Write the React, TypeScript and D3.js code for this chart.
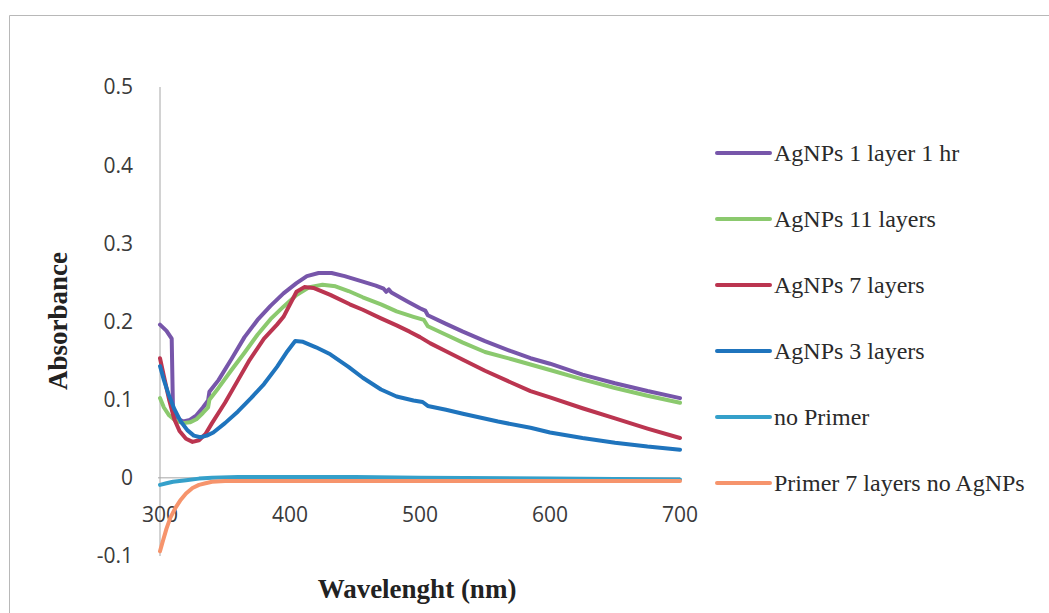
import { useEffect, useRef } from 'react'
import * as d3 from 'd3'

// [wavelength nm, absorbance]
const layer1hr: [number, number][] = [
  [300, 0.196], [305, 0.188], [309, 0.178], [310, 0.085], [313, 0.076], [318, 0.072],
  [323, 0.074], [328, 0.08], [333, 0.09], [337, 0.099], [338, 0.11], [345, 0.125],
  [355, 0.152], [365, 0.18], [375, 0.202], [385, 0.22], [395, 0.236], [405, 0.249],
  [413, 0.258], [422, 0.262], [432, 0.262], [442, 0.258], [456, 0.251], [466, 0.246],
  [472, 0.242], [474, 0.238], [476, 0.241], [478, 0.237], [490, 0.226], [500, 0.217],
  [504, 0.214], [506, 0.208], [520, 0.197], [533, 0.187], [550, 0.175], [570, 0.162],
  [585, 0.153], [600, 0.146], [625, 0.132], [650, 0.121], [675, 0.111], [700, 0.102],
]
const layers11: [number, number][] = [
  [300, 0.102], [303, 0.09], [307, 0.08], [312, 0.073], [318, 0.07], [323, 0.071],
  [328, 0.075], [333, 0.083], [337, 0.09], [338, 0.1], [345, 0.115], [355, 0.138],
  [365, 0.16], [375, 0.183], [385, 0.203], [395, 0.219], [405, 0.234], [415, 0.244],
  [425, 0.247], [435, 0.245], [445, 0.239], [456, 0.231], [470, 0.222], [482, 0.213],
  [495, 0.206], [503, 0.202], [506, 0.194], [520, 0.183], [533, 0.173], [550, 0.161],
  [570, 0.152], [585, 0.145], [600, 0.138], [625, 0.126], [650, 0.115], [675, 0.105], [700, 0.096],
]
const layers7: [number, number][] = [
  [300, 0.153], [303, 0.13], [307, 0.1], [311, 0.075], [315, 0.06], [320, 0.05],
  [325, 0.046], [330, 0.048], [335, 0.056], [340, 0.07], [350, 0.096], [360, 0.125],
  [369, 0.151], [380, 0.178], [390, 0.196], [395, 0.206], [405, 0.238], [411, 0.244],
  [418, 0.243], [431, 0.234], [446, 0.222], [456, 0.215], [470, 0.204], [482, 0.195],
  [492, 0.187], [500, 0.18], [508, 0.172], [520, 0.162], [533, 0.151], [550, 0.137],
  [570, 0.122], [585, 0.111], [600, 0.103], [625, 0.089], [650, 0.076], [675, 0.063], [700, 0.051],
]
const layers3: [number, number][] = [
  [300, 0.143], [303, 0.125], [307, 0.105], [311, 0.088], [316, 0.072], [321, 0.061],
  [326, 0.054], [331, 0.052], [336, 0.054], [341, 0.058], [350, 0.07], [360, 0.085],
  [370, 0.102], [380, 0.12], [390, 0.142], [398, 0.162], [404, 0.175], [410, 0.174],
  [420, 0.167], [431, 0.158], [445, 0.142], [456, 0.128], [470, 0.113], [482, 0.104],
  [495, 0.099], [502, 0.097], [506, 0.092], [520, 0.087], [533, 0.082], [560, 0.072],
  [585, 0.064], [600, 0.058], [625, 0.051], [650, 0.045], [675, 0.04], [700, 0.036],
]
const noPrimer: [number, number][] = [
  [300, -0.009], [305, -0.007], [310, -0.005], [320, -0.003], [330, -0.001], [340, 0.0],
  [360, 0.001], [400, 0.001], [450, 0.001], [500, 0.0], [600, -0.001], [700, -0.002],
]
const primerNoAg: [number, number][] = [
  [300, -0.094], [302, -0.082], [305, -0.065], [308, -0.051], [312, -0.038], [316, -0.028],
  [320, -0.02], [325, -0.013], [330, -0.009], [335, -0.007], [340, -0.005], [350, -0.004],
  [400, -0.004], [500, -0.004], [600, -0.004], [700, -0.004],
]

const seriesNames = [
  'AgNPs 1 layer 1 hr',
  'AgNPs 11 layers',
  'AgNPs 7 layers',
  'AgNPs 3 layers',
  'no Primer',
  'Primer 7 layers no AgNPs',
]
const seriesData = [layer1hr, layers11, layers7, layers3, noPrimer, primerNoAg]
const seriesColors = ['#7756aa', '#8bc96e', '#bb3550', '#1f74bd', '#35a0ca', '#f6946c']

const xTicks = [300, 400, 500, 600, 700]
const yTicks = [-0.1, 0, 0.1, 0.2, 0.3, 0.4, 0.5]

const W = 1049
const H = 613

export default function App() {
  const svgRef = useRef<SVGSVGElement>(null)

  useEffect(() => {
    if (!svgRef.current) return
    const svg = d3.select(svgRef.current)
    svg.selectAll('*').remove()

    const x = d3.scaleLinear().domain([300, 700]).range([160, 680])
    const y = d3.scaleLinear().domain([-0.1, 0.5]).range([556, 87])

    svg.append('rect').attr('width', W).attr('height', H).attr('fill', '#fff')

    // faint scanned frame
    svg.append('path')
      .attr('d', `M9.5,${H} V15.5 H${W}`)
      .attr('fill', 'none')
      .attr('stroke', '#b8b8b8')
      .attr('stroke-width', 1)

    // axes
    svg.append('line')
      .attr('x1', x(300)).attr('x2', x(300))
      .attr('y1', y(0.5)).attr('y2', y(-0.1))
      .attr('stroke', '#a6a6a6')
    svg.append('line')
      .attr('x1', x(300) - 2).attr('x2', x(700))
      .attr('y1', y(0)).attr('y2', y(0))
      .attr('stroke', '#a6a6a6')

    svg.append('g')
      .selectAll('text')
      .data(yTicks)
      .enter()
      .append('text')
      .attr('x', 133)
      .attr('y', d => y(d))
      .attr('dy', '0.35em')
      .attr('text-anchor', 'end')
      .attr('font-family', '"Open Sans", sans-serif')
      .attr('font-size', 21)
      .attr('fill', '#3a3a3a')
      .text(d => (d === 0 ? '0' : d.toFixed(1)))

    svg.append('g')
      .selectAll('text')
      .data(xTicks)
      .enter()
      .append('text')
      .attr('x', d => x(d))
      .attr('y', 522)
      .attr('text-anchor', 'middle')
      .attr('font-family', '"Open Sans", sans-serif')
      .attr('font-size', 21)
      .attr('fill', '#3a3a3a')
      .text(d => d)

    // series
    const line = d3.line<[number, number]>()
      .x(d => x(d[0]))
      .y(d => y(d[1]))

    seriesData.forEach((data, i) => {
      svg.append('path')
        .datum(data)
        .attr('d', line)
        .attr('fill', 'none')
        .attr('stroke', seriesColors[i])
        .attr('stroke-width', 4)
        .attr('stroke-linejoin', 'round')
        .attr('stroke-linecap', 'round')
    })

    // legend
    const legend = svg.append('g')
    seriesNames.forEach((name, i) => {
      const ly = 153 + i * 66
      legend.append('line')
        .attr('x1', 717).attr('x2', 770)
        .attr('y1', ly).attr('y2', ly)
        .attr('stroke', seriesColors[i])
        .attr('stroke-width', 4)
        .attr('stroke-linecap', 'round')
      legend.append('text')
        .attr('x', 774)
        .attr('y', ly + 8)
        .attr('font-family', '"Liberation Serif", "Times New Roman", serif')
        .attr('font-size', 24)
        .attr('fill', '#2a2a2a')
        .text(name)
    })

    // axis titles
    svg.append('text')
      .attr('transform', 'translate(67,321) rotate(-90)')
      .attr('text-anchor', 'middle')
      .attr('font-family', '"Liberation Serif", "Times New Roman", serif')
      .attr('font-weight', 'bold')
      .attr('font-size', 27)
      .attr('fill', '#222')
      .text('Absorbance')

    svg.append('text')
      .attr('x', 417)
      .attr('y', 598)
      .attr('text-anchor', 'middle')
      .attr('font-family', '"Liberation Serif", "Times New Roman", serif')
      .attr('font-weight', 'bold')
      .attr('font-size', 27)
      .attr('fill', '#222')
      .text('Wavelenght (nm)')
  }, [])

  return (
    <svg
      ref={svgRef}
      width={W}
      height={H}
      style={{ position: 'absolute', left: 0, top: 0, display: 'block' }}
    />
  )
}
